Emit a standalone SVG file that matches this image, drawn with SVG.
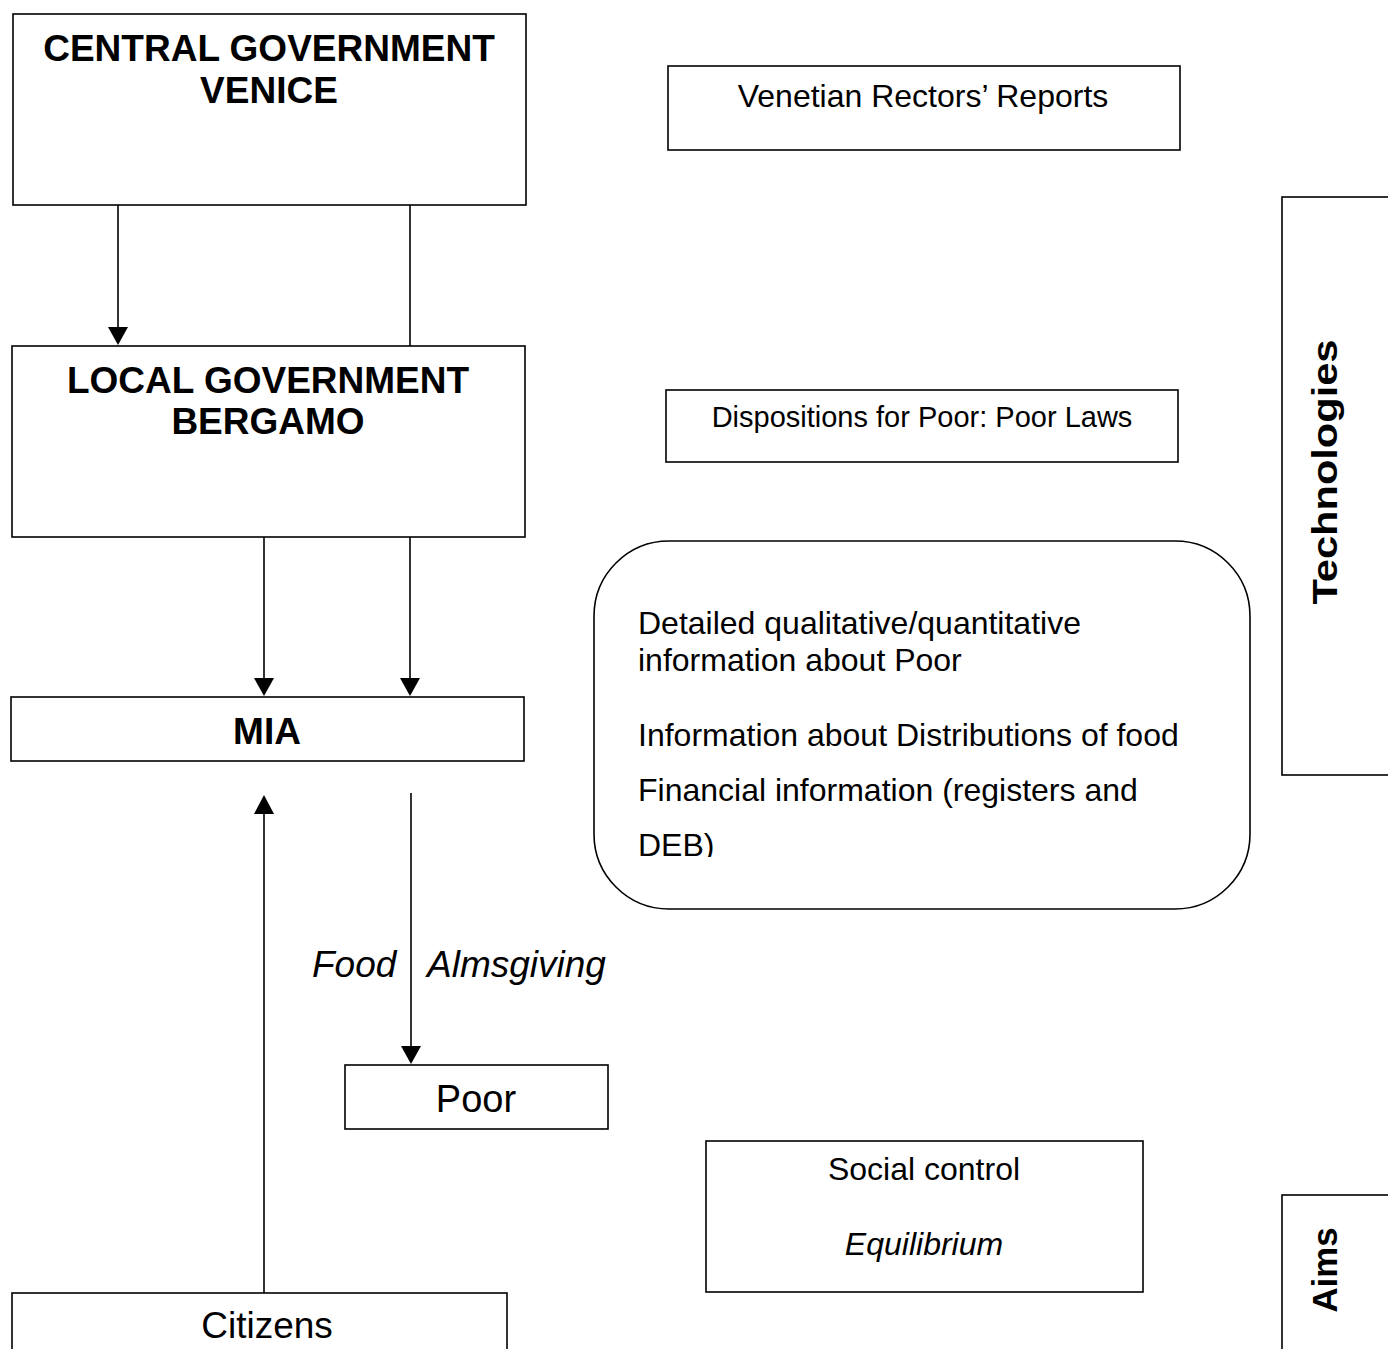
<svg xmlns="http://www.w3.org/2000/svg" width="1388" height="1349" viewBox="0 0 1388 1349">
<style>
.box{fill:#fff;stroke:#000;stroke-width:1.6}
.t{font-family:"Liberation Sans",Arial,sans-serif;fill:#000}
.b{font-weight:bold}
.i{font-style:italic}
.c{text-anchor:middle}
.ln{stroke:#000;stroke-width:1.6;fill:none}
</style>
<defs>
<clipPath id="debclip"><rect x="600" y="820" width="300" height="37"/></clipPath>
</defs>
<rect width="1388" height="1349" fill="#fff"/>

<g id="connectors">
<line class="ln" x1="118" y1="205" x2="118" y2="328"/>
<path d="M108,327 L128,327 L118,345 Z"/>
<line class="ln" x1="410" y1="205" x2="410" y2="346"/>
<line class="ln" x1="264" y1="537" x2="264" y2="680"/>
<path d="M254,678 L274,678 L264,696 Z"/>
<line class="ln" x1="410" y1="537" x2="410" y2="680"/>
<path d="M400,678 L420,678 L410,696 Z"/>
<line class="ln" x1="264" y1="1293" x2="264" y2="812"/>
<path d="M254,814 L274,814 L264,795 Z"/>
<line class="ln" x1="411" y1="793" x2="411" y2="1048"/>
<path d="M401,1046 L421,1046 L411,1064 Z"/>
</g>

<g id="central">
<rect class="box" x="13" y="14" width="513" height="191"/>
<text class="t b c" x="269" y="61" font-size="37">CENTRAL GOVERNMENT</text>
<text class="t b c" x="269" y="103" font-size="37">VENICE</text>
</g>

<g id="local">
<rect class="box" x="12" y="346" width="513" height="191"/>
<text class="t b c" x="268" y="393" font-size="37">LOCAL GOVERNMENT</text>
<text class="t b c" x="268" y="434" font-size="37">BERGAMO</text>
</g>

<g id="mia">
<rect class="box" x="11" y="697" width="513" height="64"/>
<text class="t b c" x="267" y="744" font-size="37">MIA</text>
</g>

<g id="poor">
<rect class="box" x="345" y="1065" width="263" height="64"/>
<text class="t c" x="476" y="1112" font-size="38">Poor</text>
</g>

<g id="labels">
<text class="t i" x="312" y="977" font-size="37">Food</text>
<text class="t i" x="427" y="977" font-size="37">Almsgiving</text>
</g>

<g id="citizens">
<rect class="box" x="12" y="1293" width="495" height="70"/>
<text class="t c" x="267" y="1338" font-size="37">Citizens</text>
</g>

<g id="rectors">
<rect class="box" x="668" y="66" width="512" height="84"/>
<text class="t c" x="923" y="107" font-size="32">Venetian Rectors’ Reports</text>
</g>

<g id="dispositions">
<rect class="box" x="666" y="390" width="512" height="72"/>
<text class="t c" x="922" y="427" font-size="29">Dispositions for Poor: Poor Laws</text>
</g>

<g id="information">
<rect class="box" x="594" y="541" width="656" height="368" rx="75" ry="75"/>
<text class="t" x="638" y="634" font-size="32">Detailed qualitative/quantitative</text>
<text class="t" x="638" y="671" font-size="32">information about Poor</text>
<text class="t" x="638" y="746" font-size="32">Information about Distributions of food</text>
<text class="t" x="638" y="801" font-size="32">Financial information (registers and</text>
<text class="t" x="638" y="856" font-size="32" clip-path="url(#debclip)">DEB)</text>
</g>

<g id="aims-box">
<rect class="box" x="706" y="1141" width="437" height="151"/>
<text class="t c" x="924" y="1180" font-size="32">Social control</text>
<text class="t i c" x="924" y="1255" font-size="32">Equilibrium</text>
</g>

<g id="technologies">
<rect class="box" x="1282" y="197" width="120" height="578"/>
<text class="t b c" x="1337" y="472" font-size="35" textLength="265" lengthAdjust="spacingAndGlyphs" transform="rotate(-90 1337 472)">Technologies</text>
</g>

<g id="aims">
<rect class="box" x="1282" y="1195" width="120" height="170"/>
<text class="t b c" x="1337" y="1270" font-size="35" textLength="85" lengthAdjust="spacingAndGlyphs" transform="rotate(-90 1337 1270)">Aims</text>
</g>
</svg>
